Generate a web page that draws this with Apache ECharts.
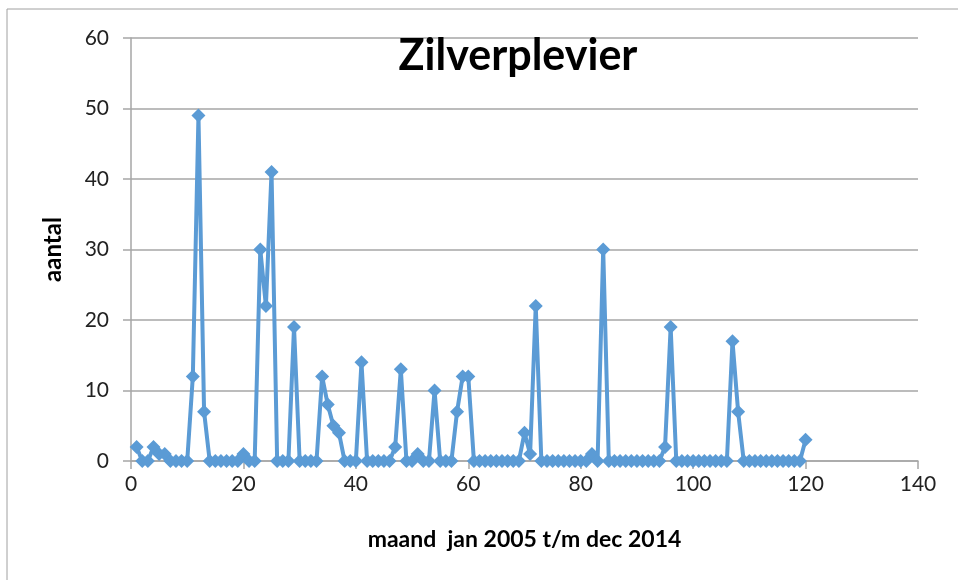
<!DOCTYPE html>
<html>
<head>
<meta charset="utf-8">
<script src="https://cdn.jsdelivr.net/npm/echarts@6/dist/echarts.min.js"></script>
<style>
  html, body { margin: 0; padding: 0; background: #fff; }
  #chart { width: 958px; height: 580px; }
</style>
</head>
<body>
<div id="chart"></div>
<script>
// maand 1..120 (jan 2005 t/m dec 2014)
const aantal = [
  2, 0, 0, 2, 1, 1, 0, 0, 0, 0,
  12, 49, 7, 0, 0, 0, 0, 0, 0, 1,
  0, 0, 30, 22, 41, 0, 0, 0, 19, 0,
  0, 0, 0, 12, 8, 5, 4, 0, 0, 0,
  14, 0, 0, 0, 0, 0, 2, 13, 0, 0,
  1, 0, 0, 10, 0, 0, 0, 7, 12, 12,
  0, 0, 0, 0, 0, 0, 0, 0, 0, 4,
  1, 22, 0, 0, 0, 0, 0, 0, 0, 0,
  0, 1, 0, 30, 0, 0, 0, 0, 0, 0,
  0, 0, 0, 0, 2, 19, 0, 0, 0, 0,
  0, 0, 0, 0, 0, 0, 17, 7, 0, 0,
  0, 0, 0, 0, 0, 0, 0, 0, 0, 3
]
const points = aantal.map((v, i) => [i + 1, v])

const chart = echarts.init(document.getElementById('chart'))
const font = 'Lato'
const option = {
  animation: false,
  title: {
    text: 'Zilverplevier',
    left: 513,
    top: 30,
    textAlign: 'center',
    textStyle: { fontFamily: font, fontSize: 43, fontWeight: 'bold', color: '#000' }
  },
  graphic: [{
    type: 'rect',
    shape: { x: 7, y: 9, width: 1000, height: 1000 },
    style: { fill: 'none', stroke: '#a0a0a0', lineWidth: 1 },
    z: -1
  }],
  grid: { left: 131, right: 40, top: 38, bottom: 119 },
  xAxis: {
    type: 'value',
    min: 0, max: 140, interval: 20,
    name: 'maand  jan 2005 t/m dec 2014',
    nameLocation: 'middle',
    nameGap: 67,
    nameTextStyle: { fontFamily: font, fontSize: 23, fontWeight: 'bold', color: '#000' },
    axisLine: { show: true, lineStyle: { color: '#a6a6a6', width: 1.5 } },
    axisTick: { show: true, length: 8, lineStyle: { color: '#a6a6a6', width: 1.5 } },
    axisLabel: { fontFamily: font, fontSize: 21, color: '#222', margin: 13 },
    splitLine: { show: false }
  },
  yAxis: {
    type: 'value',
    min: 0, max: 60, interval: 10,
    name: 'aantal',
    nameLocation: 'middle',
    nameGap: 66,
    nameTextStyle: { fontFamily: font, fontSize: 24, fontWeight: 'bold', color: '#000' },
    axisLine: { show: true, lineStyle: { color: '#a6a6a6', width: 1.5 } },
    axisTick: { show: true, length: 8, lineStyle: { color: '#a6a6a6', width: 1.5 } },
    axisLabel: { fontFamily: font, fontSize: 21, color: '#222', margin: 22 },
    splitLine: { show: true, lineStyle: { color: '#a6a6a6', width: 1.5 } }
  },
  series: [{
    type: 'line',
    data: points,
    symbol: 'diamond',
    symbolSize: 14,
    showAllSymbol: true,
    lineStyle: { color: '#5b9bd5', width: 4 },
    itemStyle: { color: '#5b9bd5' }
  }]
}
chart.setOption(option)
</script>
</body>
</html>
